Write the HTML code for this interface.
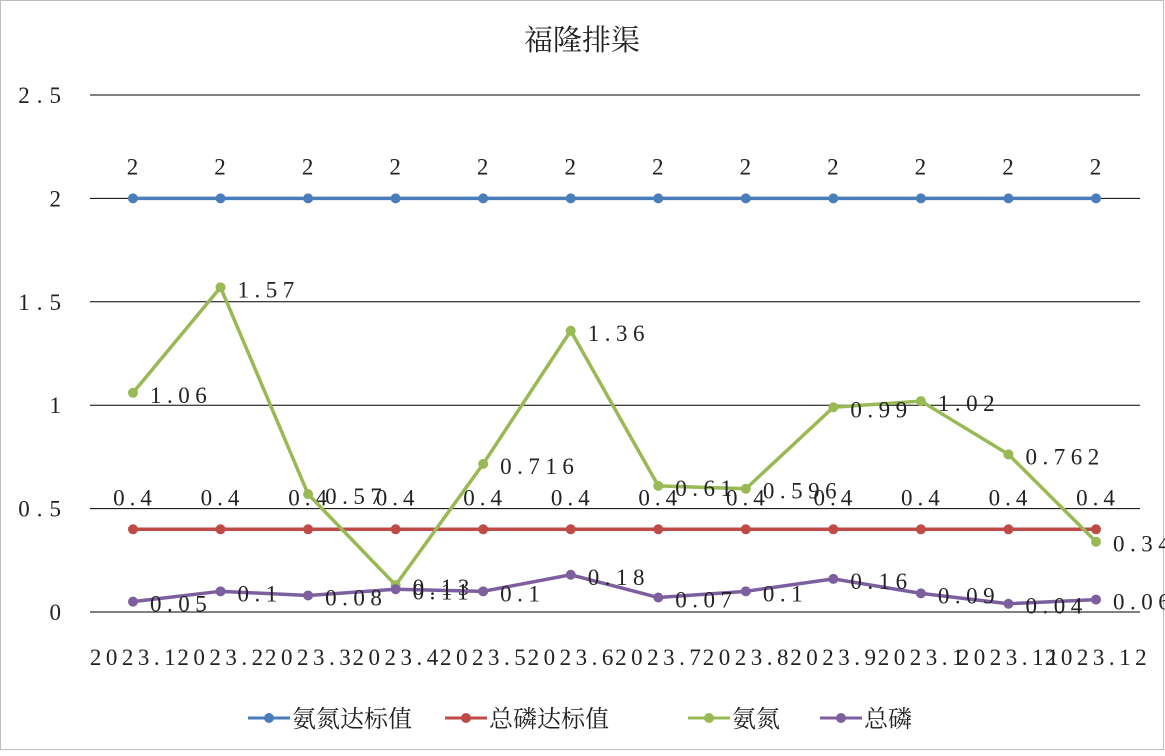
<!DOCTYPE html>
<html><head><meta charset="utf-8"><style>
html,body{margin:0;padding:0;background:#fff;}
svg text{font-family:"Liberation Serif","Noto Serif CJK SC",serif;fill:#222;}
</style></head><body>
<svg width="1165" height="751" viewBox="0 0 1165 751">
<rect x="0.5" y="0.5" width="1163" height="749" fill="#fff" stroke="#bdbdbd"/>
<text x="582" y="50" font-size="29" text-anchor="middle">福隆排渠</text>
<g id="grid"></g><g id="series"></g>
<g>
<g><line x1="248" y1="718" x2="290" y2="718" stroke="#4a7ebb" stroke-width="3"/><circle cx="269" cy="718" r="5" fill="#4a7ebb"/><text x="292" y="727" font-size="24">氨氮达标值</text></g>
<g><line x1="445" y1="718" x2="487" y2="718" stroke="#be4b48" stroke-width="3"/><circle cx="466" cy="718" r="5" fill="#be4b48"/><text x="489" y="727" font-size="24">总磷达标值</text></g>
<g><line x1="688" y1="718" x2="730" y2="718" stroke="#98b954" stroke-width="3"/><circle cx="709" cy="718" r="5" fill="#98b954"/><text x="732" y="727" font-size="24">氨氮</text></g>
<g><line x1="820" y1="718" x2="862" y2="718" stroke="#7d5fa0" stroke-width="3"/><circle cx="841" cy="718" r="5" fill="#7d5fa0"/><text x="864" y="727" font-size="24">总磷</text></g>
</g>
</svg>
<script>
const categories=["2023.1","2023.2","2023.3","2023.4","2023.5","2023.6","2023.7","2023.8","2023.9","2023.1","2023.11","2023.12"];
const ammoniaStd=[2,2,2,2,2,2,2,2,2,2,2,2];
const phosStd=[0.4,0.4,0.4,0.4,0.4,0.4,0.4,0.4,0.4,0.4,0.4,0.4];
const ammonia=[1.06,1.57,0.57,0.13,0.716,1.36,0.61,0.596,0.99,1.02,0.762,0.34];
const phosphorus=[0.05,0.1,0.08,0.11,0.1,0.18,0.07,0.1,0.16,0.09,0.04,0.06];
const yTicks=[0,0.5,1,1.5,2,2.5];
const yTickLabels=["0","0.5","1","1.5","2","2.5"];
const NS="http://www.w3.org/2000/svg";
const X=i=>133+i*(1096-133)/(categories.length-1);
const Y=v=>612-v*(612-95)/2.5;
function mk(tag,attrs,parent,txt){const e=document.createElementNS(NS,tag);for(const k in attrs)e.setAttribute(k,attrs[k]);if(txt!==undefined)e.textContent=txt;parent.appendChild(e);return e;}
const grid=document.getElementById('grid');
yTicks.forEach((t,i)=>{
 const l=mk('line',{x1:90,x2:1140,y1:Y(t),y2:Y(t),stroke:'#000','stroke-width':1},grid);
 
 
 const tx=mk('text',{x:68,y:Y(t)+8,'font-size':23,'text-anchor':'end','letter-spacing':'7'},grid,yTickLabels[i]);
 
 
});
categories.forEach((c,i)=>{
 const tx=mk('text',{x:X(i)+2,y:665,'font-size':23,'text-anchor':'middle','letter-spacing':'4.5'},grid,c);
 
 
});
const sg=document.getElementById('series');
function series(vals,color,name,pos){
 const g=mk('g',{},sg);
 
 
 const p=mk('polyline',{points:vals.map((v,i)=>X(i)+','+Y(v)).join(' '),fill:'none',stroke:color,'stroke-width':3.5,'stroke-linejoin':'round'},g);
 
 
 vals.forEach((v,i)=>{
  const c=mk('circle',{cx:X(i),cy:Y(v),r:5,fill:color},g);
  
  
  let t;
  if(pos==='above') t=mk('text',{x:X(i)+2,y:Y(v)-24,'font-size':23,'text-anchor':'middle','letter-spacing':'5'},g,String(v));
  else t=mk('text',{x:X(i)+17,y:Y(v)+10,'font-size':23,'letter-spacing':'5.5'},g,String(v));
  
  
 });
}
series(ammoniaStd,'#4a7ebb','ammonia-standard-series','above');
series(phosStd,'#be4b48','phosphorus-standard-series','above');
series(ammonia,'#98b954','ammonia-series','right');
series(phosphorus,'#7d5fa0','phosphorus-series','right');
</script>
</body></html>
